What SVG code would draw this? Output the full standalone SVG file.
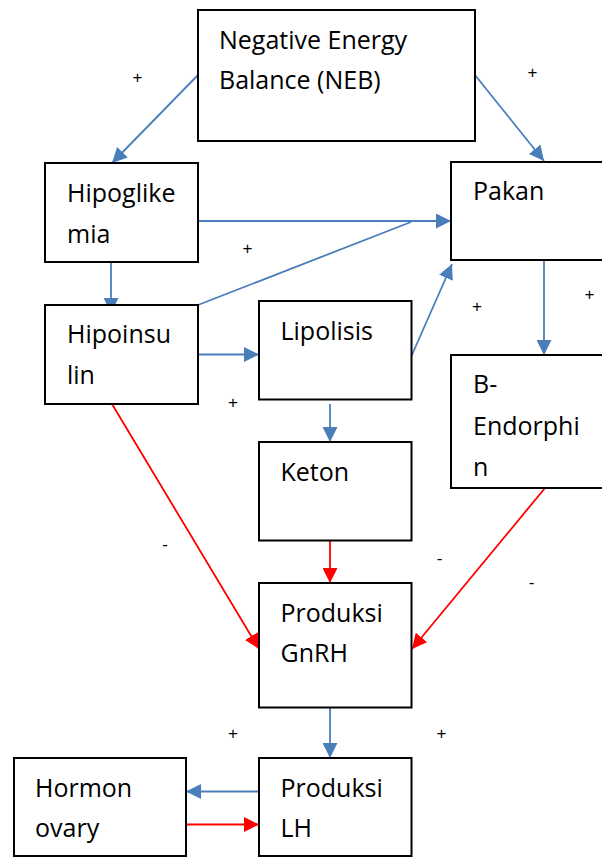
<svg xmlns="http://www.w3.org/2000/svg" width="602" height="857" viewBox="0 0 602 857">
<defs>
<style>
.box{fill:#fff;stroke:#000;stroke-width:2}
.t{font-family:"Open Sans","Liberation Sans",sans-serif;font-size:25px;fill:#000}
.s{font-family:"Liberation Sans",Arial,sans-serif;font-size:17px;fill:#000}
.b{stroke:#4A7EBB;stroke-width:1.8;fill:none}
.r{stroke:#FF0000;stroke-width:1.8;fill:none}
</style>
<marker id="ab" markerUnits="userSpaceOnUse" markerWidth="15" markerHeight="15" refX="15" refY="7.5" orient="auto"><path d="M0,0 L15,7.5 L0,15 z" fill="#4A7EBB"/></marker>
<marker id="ar" markerUnits="userSpaceOnUse" markerWidth="15" markerHeight="15" refX="15" refY="7.5" orient="auto"><path d="M0,0 L15,7.5 L0,15 z" fill="#FF0000"/></marker>
</defs>
<rect width="602" height="857" fill="#fff"/>
<g id="connectors">
<line class="b" x1="198" y1="75" x2="112" y2="163" marker-end="url(#ab)"/>
<line class="b" x1="475" y1="75" x2="544" y2="161" marker-end="url(#ab)"/>
<line class="b" x1="198" y1="221" x2="451" y2="221" marker-end="url(#ab)"/>
<line class="b" x1="198" y1="305" x2="411" y2="222"/>
<line class="b" x1="111" y1="262" x2="111" y2="313" marker-end="url(#ab)"/>
<line class="b" x1="544" y1="260" x2="544" y2="355" marker-end="url(#ab)"/>
<line class="b" x1="411.5" y1="356" x2="452" y2="264" marker-end="url(#ab)"/>
<line class="b" x1="198" y1="354.5" x2="259" y2="354.5" marker-end="url(#ab)"/>
<line class="b" x1="330" y1="404" x2="330" y2="442" marker-end="url(#ab)"/>
<line class="r" x1="112" y1="404" x2="259" y2="649" marker-end="url(#ar)"/>
<line class="r" x1="330" y1="541" x2="330" y2="583" marker-end="url(#ar)"/>
<line class="r" x1="545" y1="488" x2="412" y2="649" marker-end="url(#ar)"/>
<line class="b" x1="330" y1="708" x2="330" y2="758" marker-end="url(#ab)"/>
<line class="b" x1="259" y1="791.5" x2="186" y2="791.5" marker-end="url(#ab)"/>
<line class="r" x1="186" y1="824.5" x2="259" y2="824.5" marker-end="url(#ar)"/>
</g>
<g id="neb"><rect class="box" x="198" y="10" width="277" height="131"/><text class="t" x="219" y="49">Negative Energy</text><text class="t" x="219" y="89">Balance (NEB)</text></g>
<g id="hipoglikemia"><rect class="box" x="45" y="163" width="153" height="99"/><text class="t" x="67" y="202">Hipoglike</text><text class="t" x="67" y="243">mia</text></g>
<g id="pakan"><rect class="box" x="451" y="162" width="160" height="98"/><text class="t" x="473" y="200">Pakan</text></g>
<g id="hipoinsulin"><rect class="box" x="45" y="305" width="153" height="99"/><text class="t" x="67" y="343">Hipoinsu</text><text class="t" x="67" y="384">lin</text></g>
<g id="lipolisis"><rect class="box" x="259" y="301" width="152.5" height="98.5"/><text class="t" x="280.5" y="340">Lipolisis</text></g>
<g id="b-endorphin"><rect class="box" x="451" y="355" width="160" height="133"/><text class="t" x="473" y="393">B-</text><text class="t" x="473" y="435">Endorphi</text><text class="t" x="473" y="476">n</text></g>
<g id="keton"><rect class="box" x="259" y="442" width="152.5" height="98.5"/><text class="t" x="280.5" y="481">Keton</text></g>
<g id="gnrh"><rect class="box" x="259" y="583" width="152.5" height="124.5"/><text class="t" x="280.5" y="622">Produksi</text><text class="t" x="280.5" y="662">GnRH</text></g>
<g id="lh"><rect class="box" x="259" y="758" width="152.5" height="98"/><text class="t" x="280.5" y="797">Produksi</text><text class="t" x="280.5" y="837">LH</text></g>
<g id="hormon-ovary"><rect class="box" x="14" y="758" width="172" height="98"/><text class="t" x="35" y="797">Hormon</text><text class="t" x="35" y="837">ovary</text></g>
<g id="signs">
<text class="s" x="137.5" y="83" text-anchor="middle">+</text>
<text class="s" x="532.5" y="78" text-anchor="middle">+</text>
<text class="s" x="247.5" y="254" text-anchor="middle">+</text>
<text class="s" x="477" y="312" text-anchor="middle">+</text>
<text class="s" x="589.5" y="300" text-anchor="middle">+</text>
<text class="s" x="233" y="408" text-anchor="middle">+</text>
<text class="s" x="165" y="550" text-anchor="middle">-</text>
<text class="s" x="439.5" y="564" text-anchor="middle">-</text>
<text class="s" x="531.5" y="588" text-anchor="middle">-</text>
<text class="s" x="233" y="739" text-anchor="middle">+</text>
<text class="s" x="441.5" y="739" text-anchor="middle">+</text>
</g>
</svg>
